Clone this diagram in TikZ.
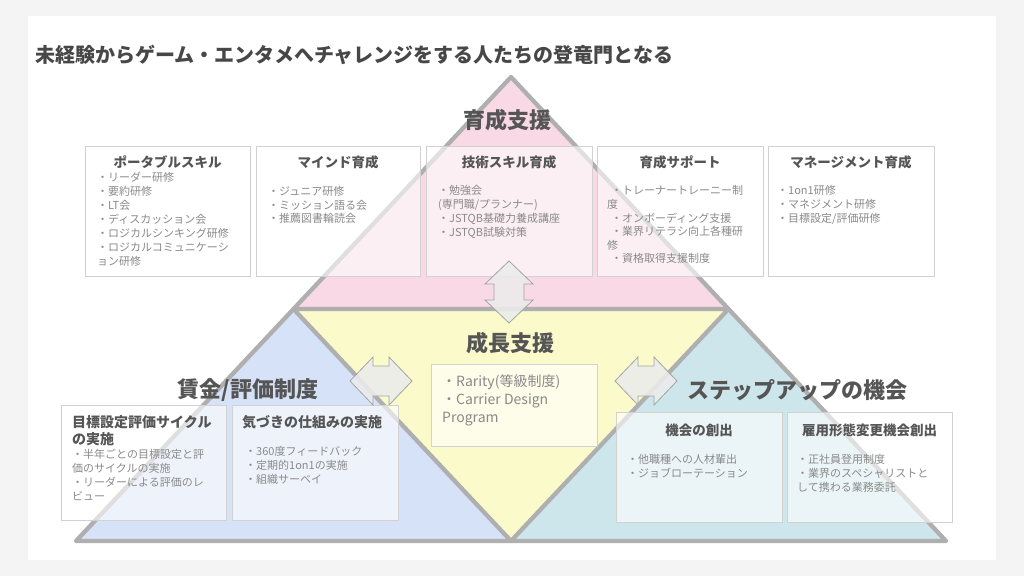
\documentclass[tikz,border=0pt]{standalone}
\usepackage{fontspec}
\setmainfont{Noto Sans CJK JP}
\begin{document}
\begin{tikzpicture}[x=1pt,y=-1pt,
  panel/.style={fill=white,draw=none},
  triline/.style={draw=lineg,line width=4.3pt,line join=round},
  infobox/.style={draw=boxline,line width=0.8pt,fill=white,fill opacity=0.6,text opacity=1,inner sep=0pt},
  boxtitle/.style={font=\bfseries\fontsize{13.5}{17}\selectfont,text=titleg,inner sep=0pt},
  lefttitle/.style={font=\bfseries\fontsize{14}{17}\selectfont,text=titleg,inner sep=0pt,align=left,anchor=north west},
  body/.style={font=\fontsize{11}{14}\selectfont,text=bodyg,inner sep=0pt,align=left,anchor=north west},
  biglabel/.style={font=\bfseries\fontsize{22}{26}\selectfont,text=titleg,inner sep=0pt},
  arrowsty/.style={draw=arrowline,line width=0.8pt,fill=arrowfill,fill opacity=0.88},
  dbl/.pic={\path[arrowsty] (-31,0) -- (-8,-24) -- (-8,-15) -- (8,-15) -- (8,-24) -- (31,0) -- (8,24) -- (8,15) -- (-8,15) -- (-8,24) -- cycle;}
]
\definecolor{bgg}{HTML}{F4F4F4}
\definecolor{lineg}{HTML}{AFAFAF}
\definecolor{boxline}{HTML}{D2D2D2}
\definecolor{titleg}{HTML}{555555}
\definecolor{bodyg}{HTML}{8A8A8A}
\definecolor{pinkf}{HTML}{F8D9E5}
\definecolor{yellowf}{HTML}{FAFACB}
\definecolor{bluef}{HTML}{D6E2F7}
\definecolor{tealf}{HTML}{CDE6EB}
\definecolor{arrowfill}{HTML}{ECECEC}
\definecolor{arrowline}{HTML}{A4A4A4}
\useasboundingbox (0,0) rectangle (1024,576);
\fill[bgg] (0,0) rectangle (1024,576);
\fill[panel] (28,16) rectangle (996,560);

% title
\node[font=\bfseries\fontsize{20}{24}\selectfont,text=black!72,anchor=west,inner sep=0pt] (title) at (35,55) {未経験からゲーム・エンタメへチャレンジをする人たちの登竜門となる};

% pyramid
\coordinate (apex) at (511,77);
\coordinate (bl) at (76,541);
\coordinate (br) at (946,541);
\coordinate (ml) at (293.5,309);
\coordinate (mr) at (728.5,309);
\coordinate (mb) at (511,541);
\fill[pinkf] (apex) -- (ml) -- (mr) -- cycle;
\fill[yellowf] (ml) -- (mr) -- (mb) -- cycle;
\fill[bluef] (ml) -- (bl) -- (mb) -- cycle;
\fill[tealf] (mr) -- (br) -- (mb) -- cycle;
\draw[triline] (apex) -- (bl) -- (br) -- cycle;
\draw[triline] (ml) -- (mr) -- (mb) -- cycle;

% big labels
\node[biglabel] (l1) at (507,120) {育成支援};
\node[biglabel] (l2) at (510,343) {成長支援};
\node[biglabel] (l3) at (248,390) {賃金/評価制度};
\node[biglabel] (l4) at (797,390) {ステップアップの機会};

% top boxes
\node[infobox,minimum width=165pt,minimum height=130pt] (b1) at (167.5,211) {};
\node[infobox,minimum width=164pt,minimum height=130pt] (b2) at (338,211) {};
\node[infobox,minimum width=166pt,minimum height=130pt] (b3) at (509,211) {};
\node[infobox,minimum width=166pt,minimum height=130pt] (b4) at (680,211) {};
\node[infobox,minimum width=166pt,minimum height=130pt] (b5) at (851,211) {};

\node[boxtitle] (b1t) at (167.5,162) {ポータブルスキル};
\node[boxtitle] (b2t) at (338,162) {マインド育成};
\node[boxtitle] (b3t) at (509,162) {技術スキル育成};
\node[boxtitle] (b4t) at (680,162) {育成サポート};
\node[boxtitle] (b5t) at (851,162) {マネージメント育成};

\node[body] (b1b) at (97,171.5) {・リーダー研修\\・要約研修\\・LT会\\・ディスカッション会\\・ロジカルシンキング研修\\・ロジカルコミュニケーシ\\ョン研修};
\node[body,font=\fontsize{11}{13.5}\selectfont] (b2b) at (268,186.5) {・ジュニア研修\\・ミッション語る会\\・推薦図書輪読会};
\node[body] (b3b) at (438,185.5) {・勉強会\\(専門職/プランナー)\\・JSTQB基礎力養成講座\\・JSTQB試験対策};
\node[body,font=\fontsize{11}{13.6}\selectfont] (b4b) at (607,185.5) {\hspace{4pt}・トレーナートレーニー制\\度\\\hspace{4pt}・オンボーディング支援\\\hspace{4pt}・業界リテラシ向上各種研\\修\\\hspace{4pt}・資格取得支援制度};
\node[body] (b5b) at (777,185.5) {・1on1研修\\・マネジメント研修\\・目標設定/評価研修};

% center box
\node[infobox,minimum width=166pt,minimum height=82pt] (cb) at (514,405) {};
\node[body,font=\fontsize{14}{18}\selectfont] (cbt) at (442,374) {・Rarity(等級制度)\\・Carrier Design\\Program};

% left boxes
\node[infobox,minimum width=165pt,minimum height=115pt] (lb1) at (143.5,462.5) {};
\node[infobox,minimum width=166pt,minimum height=115pt] (lb2) at (315,462.5) {};
\node[lefttitle] (lb1t) at (72,415) {目標設定評価サイクル\\の実施};
\node[body] (lb1b) at (72,449.5) {・半年ごとの目標設定と評\\価のサイクルの実施\\・リーダーによる評価のレ\\ビュー};
\node[lefttitle] (lb2t) at (242,415) {気づきの仕組みの実施};
\node[body] (lb2b) at (245,446.5) {・360度フィードバック\\・定期的1on1の実施\\・組織サーベイ};

% right boxes
\node[infobox,minimum width=166pt,minimum height=110pt] (rb1) at (699,467) {};
\node[infobox,minimum width=165pt,minimum height=110pt] (rb2) at (869.5,467) {};
\node[boxtitle] (rb1t) at (699,430) {機会の創出};
\node[boxtitle] (rb2t) at (869.5,430) {雇用形態変更機会創出};
\node[body] (rb1b) at (627,454.5) {・他職種への人材輩出\\・ジョブローテーション};
\node[body] (rb2b) at (797,454.5) {・正社員登用制度\\・業界のスペシャリストと\\して携わる業務委託};

% arrows
\pic[rotate=90] (av) at (509,292) {dbl};
\pic (al) at (381,381) {dbl};
\pic (ar) at (646,381) {dbl};
\end{tikzpicture}
\end{document}
